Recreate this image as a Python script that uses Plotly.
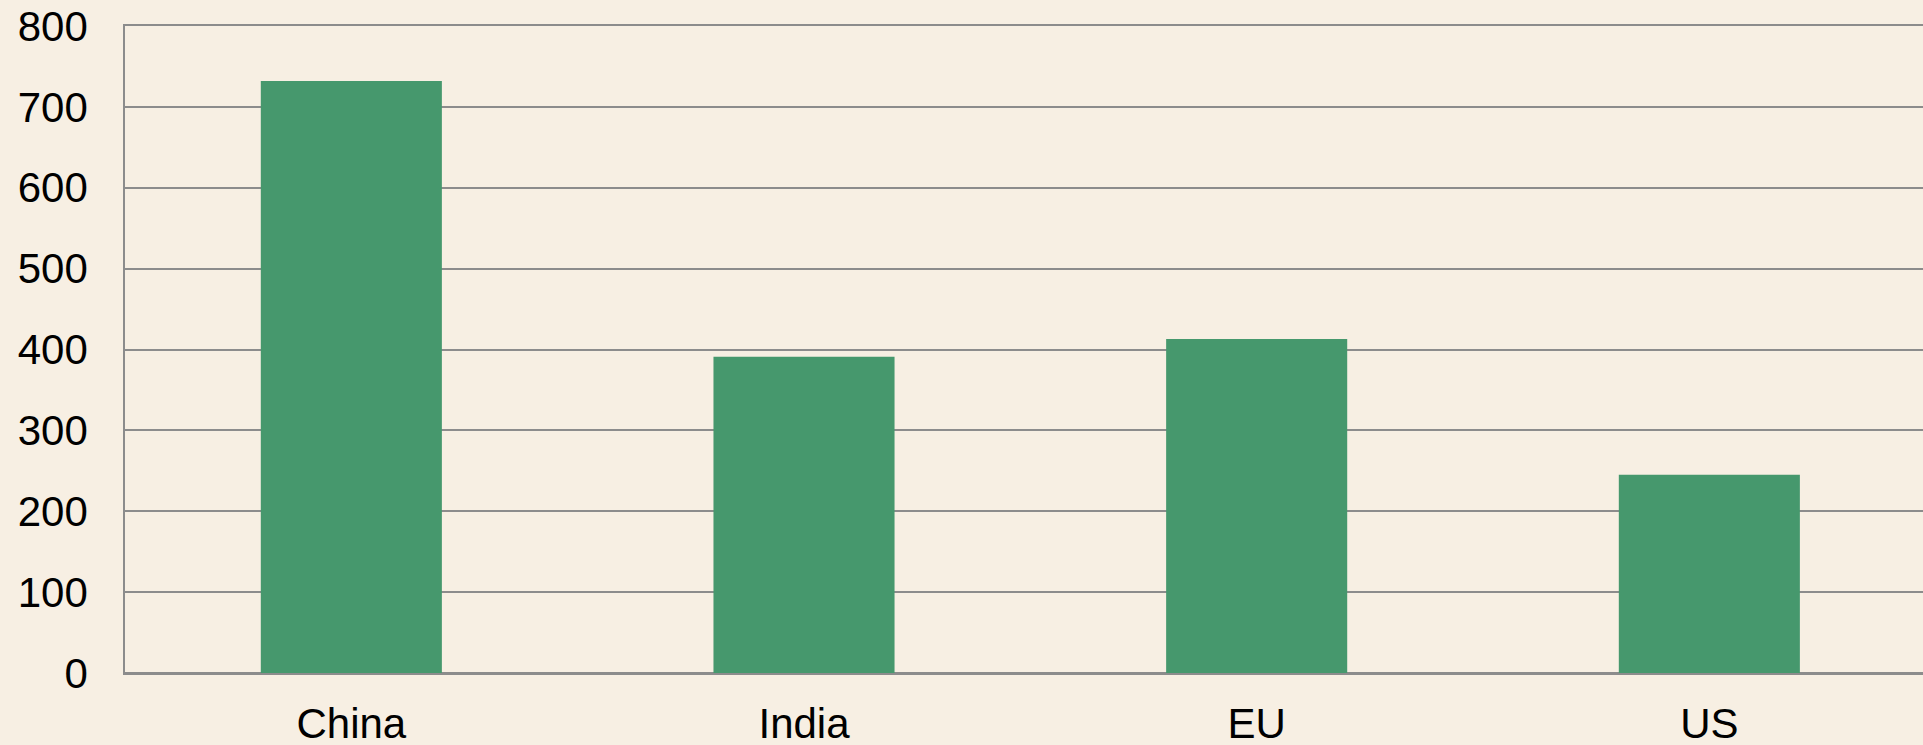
import plotly.graph_objects as go

categories = ["China", "India", "EU", "US"]
values = [732, 391, 413, 245]
y_ticks = [0, 100, 200, 300, 400, 500, 600, 700, 800]

BG = "#F7EFE3"
BAR = "#46986D"
GRID = "#8C8C8C"

fig = go.Figure(
    go.Bar(
        x=categories,
        y=values,
        marker=dict(color=BAR, line=dict(width=0)),
        width=0.4,
        hoverinfo="x+y",
    )
)

fig.update_layout(
    width=1923,
    height=745,
    paper_bgcolor=BG,
    plot_bgcolor=BG,
    margin=dict(l=125, r=0, t=26, b=72, autoexpand=False),
    showlegend=False,
    font=dict(family="Liberation Sans, Arial, sans-serif", size=42, color="#000000"),
)

fig.update_xaxes(
    type="category",
    range=[-0.5, 3.472],
    showgrid=False,
    showline=True,
    mirror=True,
    linecolor=GRID,
    linewidth=1.5,
    ticks="",
    automargin=False,
    ticklabelstandoff=13,
    tickfont=dict(size=42),
)

fig.update_yaxes(
    range=[0, 800],
    tickvals=y_ticks,
    ticktext=[str(v) for v in y_ticks],
    showgrid=True,
    gridcolor=GRID,
    gridwidth=1.5,
    zeroline=True,
    zerolinecolor=GRID,
    zerolinewidth=1.5,
    showline=True,
    linecolor=GRID,
    linewidth=1.5,
    ticks="",
    automargin=False,
    ticklabelstandoff=27,
    tickfont=dict(size=42),
)

fig.write_html(
    "out.html",
    config={"displayModeBar": False},
    post_script="document.body.style.margin='0';document.body.style.overflow='hidden';",
)
